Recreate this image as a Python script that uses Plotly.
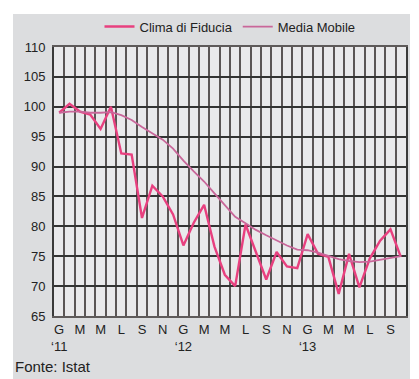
import plotly.graph_objects as go

# Monthly series, January 2011 - October 2013 (Italian month initials)
month_initials = ["G", "F", "M", "A", "M", "G", "L", "A", "S", "O", "N", "D"]
years = ["‘11", "‘12", "‘13"]
n_months = 34

clima_fiducia = [
    99.0, 100.5, 99.2, 98.7, 96.3, 100.0, 92.2, 92.0, 81.4, 86.8, 85.0, 82.0,
    76.8, 80.6, 83.6, 76.6, 71.9, 70.0, 80.3, 75.7, 71.1, 75.7, 73.3, 73.0,
    78.7, 75.4, 74.9, 68.7, 75.4, 69.8, 74.6, 77.6, 79.5, 74.9,
]
media_mobile = [
    99.0, 99.2, 99.2, 99.0, 99.0, 99.1, 98.6, 97.8, 96.6, 95.6, 94.5, 93.0,
    91.0, 89.2, 87.5, 85.5, 83.6, 81.6, 80.5, 79.4, 78.5, 77.6, 76.8, 76.1,
    76.0, 75.6, 75.0, 74.5, 74.2, 74.0, 74.1, 74.4, 74.7, 75.0,
]

x = list(range(n_months))
tick_vals = list(range(0, n_months - 1, 2))
tick_text = []
for i in tick_vals:
    label = month_initials[i % 12]
    if i % 12 == 0:
        label += "<br>" + years[i // 12]
    tick_text.append(label)

FONT = "Liberation Sans, Arial, sans-serif"

fig = go.Figure()
fig.add_trace(go.Scatter(
    x=x, y=clima_fiducia, mode="lines", name="Clima di Fiducia",
    line=dict(color="#e8407f", width=2.4),
))
fig.add_trace(go.Scatter(
    x=x, y=media_mobile, mode="lines", name="Media Mobile",
    line=dict(color="#c9679a", width=1.8),
))

# grey panel behind the whole chart, lighter plotting area on top of it
fig.add_shape(type="rect", xref="paper", yref="paper",
              x0=-0.1165, x1=1.0114, y0=-0.235, y1=1.1227,
              fillcolor="#dcdddf", line_width=0, layer="below")
fig.add_shape(type="rect", xref="paper", yref="paper",
              x0=0, x1=1, y0=0, y1=1,
              fillcolor="#e9e9eb", line_width=0, layer="below")

fig.add_annotation(text="Fonte: Istat", xref="paper", yref="paper",
                   x=-0.1165, y=-0.188, xanchor="left", yanchor="middle",
                   showarrow=False, font=dict(family=FONT, size=15, color="#222222"))

fig.update_layout(
    width=419, height=379,
    margin=dict(l=54, r=13, t=39, b=63),
    paper_bgcolor="#ffffff",
    plot_bgcolor="rgba(0,0,0,0)",
    font=dict(family=FONT, size=13, color="#222222"),
    showlegend=True,
    legend=dict(orientation="h", x=0.5, xanchor="center", y=1.02, yanchor="bottom",
                bgcolor="rgba(0,0,0,0)", font=dict(size=13), itemwidth=30,
                tracegroupgap=0),
)
fig.update_xaxes(
    range=[-0.5, n_months - 0.5],
    tickmode="array", tickvals=tick_vals, ticktext=tick_text,
    showgrid=False, zeroline=False, ticks="",
    showline=True, mirror=True, linecolor="#5e5a5a", linewidth=2,
    minor=dict(tick0=-0.5, dtick=1, showgrid=True, gridcolor="#5a5555", gridwidth=2, ticks=""),
    tickfont=dict(size=13),
)
fig.update_yaxes(
    range=[65, 110], dtick=5, tick0=65,
    showgrid=True, gridcolor="#333333", gridwidth=2, zeroline=False, ticks="",
    showline=True, mirror=True, linecolor="#3a3a3a", linewidth=2,
    tickfont=dict(size=13), ticklabelstandoff=4,
)

fig.write_html("out.html")
